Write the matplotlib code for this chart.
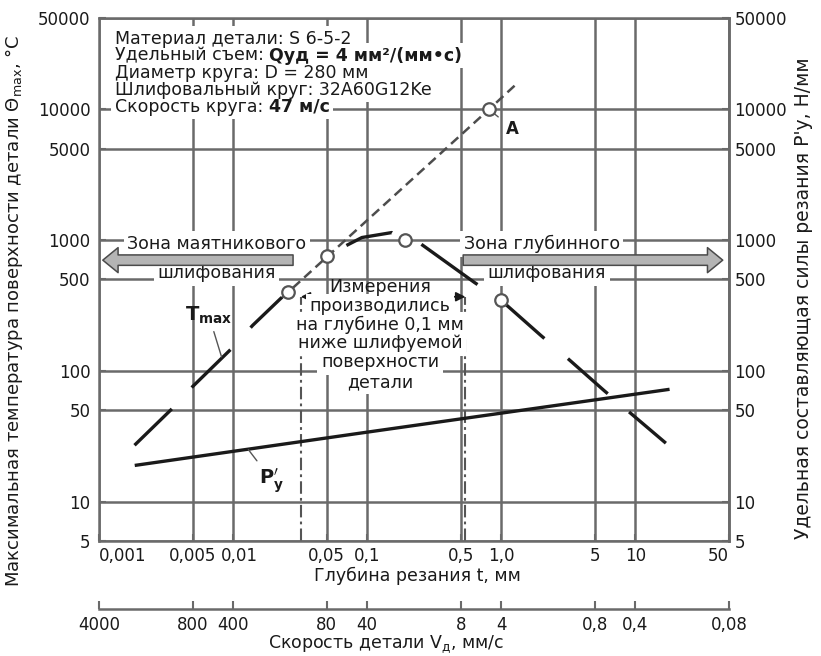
import matplotlib
matplotlib.use("Agg")
import matplotlib.pyplot as plt
import matplotlib.transforms as mtransforms
from matplotlib.ticker import NullLocator

plt.rcParams['font.family'] = ['DejaVu Sans']
plt.rcParams['lines.scale_dashes'] = False

# --- data ----------------------------------------------------------------
# depth of cut t, mm -> max surface temperature of the workpiece, °C
tmax_rise_t = [0.00184, 0.00355, 0.005, 0.0098, 0.014, 0.0231]
tmax_rise_T = [27, 52, 76, 149, 223, 365]
tmax_fall_t = [0.07, 0.0914, 0.153, 0.192, 0.249, 0.632, 1.0, 1.97, 2.96, 5.82, 8.3, 16.9]
tmax_fall_T = [910, 1047, 1143, 1000, 942, 474, 346, 187, 131, 71, 52, 28]

# measured points (open circles)
meas_t = [0.0258, 0.05, 0.19, 1.0]
meas_T = [400, 750, 1000, 350]

# extrapolated straight line through the pendulum-grinding points up to A
extr_t = [0.023, 0.81, 1.33]
extr_T = [360, 10000, 16000]
point_a_t, point_a_T = 0.81, 10000

# specific normal force P'y, N/mm
py_t = [0.0019, 0.1, 17.5]
py_P = [19, 34, 72]

# borders of the measurement zone
zone_t = [0.032, 0.54]

# axes
t_ticks = [0.001, 0.005, 0.01, 0.05, 0.1, 0.5, 1, 5, 10, 50]
t_labels = ['0,001', '0,005', '0,01', '0,05', '0,1', '0,5', '1,0', '5', '10', '50']
v_ticks = [4000, 800, 400, 80, 40, 8, 4, 0.8, 0.4, 0.08]
v_labels = ['4000', '800', '400', '80', '40', '8', '4', '0,8', '0,4', '0,08']
y_ticks = [5, 10, 50, 100, 500, 1000, 5000, 10000, 50000]
y_labels = ['5', '10', '50', '100', '500', '1000', '5000', '10000', '50000']

INK = '#1a1a1a'
GRID = '#6a6a6a'
FS = 12.5

fig = plt.figure(figsize=(8.21, 6.56), dpi=100)
ax = fig.add_axes([0.1206, 0.1753, 0.7674, 0.7973])
ax.set_xscale('log')
ax.set_yscale('log')
ax.set_xlim(0.001, 50)
ax.set_ylim(5, 50000)
ax.set_xticks(t_ticks, t_labels)
ax.set_yticks(y_ticks, y_labels)
ax.xaxis.set_minor_locator(NullLocator())
ax.yaxis.set_minor_locator(NullLocator())
ax.set_axisbelow(True)
ax.grid(True, color=GRID, lw=1.8)
for s in ax.spines.values():
    s.set_color(GRID)
    s.set_linewidth(1.8)
ax.tick_params(direction='in', length=5, width=1.5, color=GRID, labelsize=12, labelcolor=INK)
ax.tick_params(axis='x', pad=4)
ax.tick_params(axis='y', pad=6)
xlabs = ax.get_xticklabels()
xlabs[0].set_ha('left')
xlabs[-1].set_ha('right')
xlabs[2].set_transform(xlabs[2].get_transform()
                       + mtransforms.ScaledTranslation(0.06, 0, fig.dpi_scale_trans))

ax.set_xlabel('Глубина резания t, мм', fontsize=FS, color=INK, va='center')
ax.xaxis.set_label_coords(0.506, -0.066)
ax.set_ylabel('Максимальная температура поверхности детали Θ$_{\\rm max}$, °C',
              fontsize=13, color=INK, va='center')
ax.yaxis.set_label_coords(-0.135, 0.44)

# right axis: specific force, same log scale
pax = ax.secondary_yaxis('right')
pax.set_yticks(y_ticks, y_labels)
pax.yaxis.set_minor_locator(NullLocator())
pax.spines['right'].set_color(GRID)
pax.spines['right'].set_linewidth(1.8)
pax.tick_params(direction='in', length=5, width=1.5, color=GRID, labelsize=12, labelcolor=INK, pad=4)
pax.set_ylabel("Удельная составляющая силы резания P'у, Н/мм", fontsize=13.5, color=INK,
               va='center', rotation=90)
pax.yaxis.set_label_coords(1.118, 0.465, transform=ax.transAxes)

# second bottom axis: workpiece speed v = 4 / t
vax = ax.secondary_xaxis(-0.13, functions=(lambda t: 4 / t, lambda v: 4 / v))
vax.set_xticks(v_ticks, v_labels)
vax.xaxis.set_minor_locator(NullLocator())
vax.spines['bottom'].set_color(GRID)
vax.spines['bottom'].set_linewidth(1.8)
vax.tick_params(direction='in', length=6, width=1.5, color=GRID, labelsize=12, labelcolor=INK, pad=5)
vax.set_xlabel('Скорость детали V$_{\\rm д}$, мм/с', fontsize=FS, color=INK, va='center')
vax.xaxis.set_label_coords(0.456, -0.198, transform=ax.transAxes)

white = dict(fc='white', ec='none', pad=2.5)


def boxed_text(x, y, s, **kw):
    # white patch drawn underneath every line, so neighbouring lines never cut each other
    ax.text(x, y, s, color='none', bbox=white, zorder=2.9, **kw)
    return ax.text(x, y, s, color=INK, zorder=3, **kw)


# measurement zone borders and double arrow
for zt in zone_t:
    ax.axvline(zt, ymin=0, ymax=0.467, color='#555555', lw=1.5, dashes=(9, 3, 2, 3), zorder=1)
ax.annotate('', xy=(zone_t[0], 0.467), xytext=(zone_t[1], 0.467),
            xycoords=('data', 'axes fraction'), textcoords=('data', 'axes fraction'),
            arrowprops=dict(arrowstyle='<|-|>', color=INK, lw=1.2, mutation_scale=14,
                            shrinkA=0, shrinkB=0), zorder=2)

ax.text(0.446, 0.486, 'Измерения', transform=ax.transAxes, ha='center', va='center',
        fontsize=FS, color=INK, zorder=3)
for txt, yy in zip(['производились', 'на глубине 0,1 мм', 'ниже шлифуемой', 'поверхности', 'детали'],
                   [0.449, 0.413, 0.378, 0.342, 0.304]):
    boxed_text(0.446, yy, txt, transform=ax.transAxes, ha='center', va='center', fontsize=FS)

# zone arrows
arrow_kw = dict(arrowstyle='simple,head_length=1.1,head_width=1.8,tail_width=0.75',
                mutation_scale=10, fc='#b4b4b4', ec='#4a4a4a', lw=1.1, shrinkA=0, shrinkB=0)
ax.annotate('', xy=(0.006, 0.537), xytext=(0.308, 0.537), xycoords='axes fraction',
            arrowprops=arrow_kw, zorder=6)
ax.annotate('', xy=(0.990, 0.537), xytext=(0.578, 0.537), xycoords='axes fraction',
            arrowprops=arrow_kw, zorder=6)
boxed_text(0.187, 0.568, 'Зона маятникового', transform=ax.transAxes, ha='center', va='center', fontsize=FS)
boxed_text(0.187, 0.512, 'шлифования', transform=ax.transAxes, ha='center', va='center', fontsize=FS)
boxed_text(0.703, 0.568, 'Зона глубинного', transform=ax.transAxes, ha='center', va='center', fontsize=FS)
boxed_text(0.711, 0.512, 'шлифования', transform=ax.transAxes, ha='center', va='center', fontsize=FS)

# header block
head = [('Материал детали: S 6-5-2', None),
        ('Удельный съем:', 'Qуд = 4 мм²/(мм•с)'),
        ('Диаметр круга: D = 280 мм', None),
        ('Шлифовальный круг: 32A60G12Ke', None),
        ('Скорость круга:', '47 м/с')]
for (plain, bold), yy in zip(head, [0.960, 0.928, 0.895, 0.863, 0.830]):
    t1 = boxed_text(0.025, yy, plain, transform=ax.transAxes, ha='left', va='center', fontsize=FS)
    if bold:
        for col, zo, bb in (('none', 2.9, white), (INK, 3, None)):
            ax.annotate(bold, xy=(1, 0), xycoords=t1, xytext=(4, 0), textcoords='offset points',
                        ha='left', va='bottom', fontsize=FS, fontweight='bold', color=col,
                        bbox=bb, zorder=zo)

# curves
ax.plot(extr_t, extr_T, color='#4d4d4d', lw=1.8, dashes=(7, 4), zorder=4)
ax.plot(tmax_rise_t, tmax_rise_T, color=INK, lw=2.4, solid_capstyle='butt',
        dashes=(37.5, 21, 39, 21.5, 40, 200), zorder=4)
ax.plot(tmax_fall_t, tmax_fall_T, color=INK, lw=2.4, solid_capstyle='butt',
        dashes=(34.6, 23, 49.7, 23.8, 38.2, 22.3, 38.2, 20.2, 43, 200), zorder=4)
ax.plot(py_t, py_P, color=INK, lw=2.4, zorder=4)
ax.plot(meas_t, meas_T, ls='none', marker='o', ms=9, mfc='white', mec='#555555', mew=1.6, zorder=6)
ax.plot([point_a_t], [point_a_T], ls='none', marker='o', ms=9, mfc='white', mec='#555555', mew=1.6, zorder=6)

# curve labels
lead = dict(arrowstyle='-', color='#555555', lw=1.0, shrinkA=2, shrinkB=0)
ax.annotate(r'$\mathbf{T}_{\mathbf{max}}$', xy=(0.0082, 128), xytext=(0.0066, 265),
            fontsize=14, color=INK, ha='center', va='center', arrowprops=lead, zorder=5)
ax.annotate(r'$\mathbf{P}^{\prime}_{\mathbf{y}}$', xy=(0.013, 25), xytext=(0.0194, 14.6),
            fontsize=14, color=INK, ha='center', va='center', arrowprops=lead, zorder=5)
ax.annotate('A', xy=(point_a_t, point_a_T), xytext=(1.22, 7100),
            fontsize=12, fontweight='bold', color=INK, ha='center', va='center',
            arrowprops=dict(arrowstyle='-', color='#555555', lw=1.0, shrinkA=5, shrinkB=5), zorder=5)

fig.savefig('out.png', dpi=100)
